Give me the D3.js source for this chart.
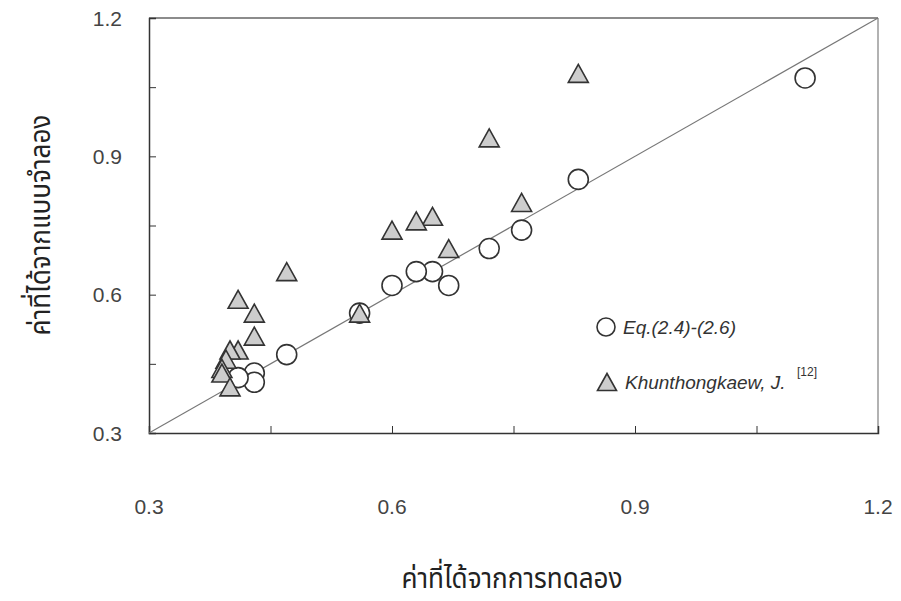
<!DOCTYPE html>
<html>
<head>
<meta charset="utf-8">
<script src="https://cdn.jsdelivr.net/npm/d3@7"></script>
<style>
  body { margin: 0; background: #fff; }
  svg { display: block; }
</style>
</head>
<body>
<svg id="chart" width="901" height="601"></svg>
<script>
// Model result from Eq.(2.4)-(2.6): experimental value vs. model value
const eqX = [1.11, 0.83, 0.76, 0.72, 0.67, 0.65, 0.63, 0.60, 0.56, 0.47, 0.43, 0.43, 0.41];
const eqY = [1.07, 0.85, 0.74, 0.70, 0.62, 0.65, 0.65, 0.62, 0.56, 0.47, 0.43, 0.41, 0.42];

// Reference results (Khunthongkaew, J.)
const khX = [0.83, 0.72, 0.76, 0.67, 0.65, 0.63, 0.60, 0.56, 0.47, 0.41, 0.43, 0.43, 0.41, 0.40, 0.395, 0.39, 0.39, 0.40];
const khY = [1.08, 0.94, 0.80, 0.70, 0.77, 0.76, 0.74, 0.56, 0.65, 0.59, 0.56, 0.51, 0.48, 0.48, 0.46, 0.44, 0.43, 0.40];

const tickValues = [0.3, 0.45, 0.6, 0.75, 0.9, 1.05, 1.2];
const tickLabels = ["0.3", "0.6", "0.9", "1.2"];
const xTitle = "ค่าที่ได้จากการทดลอง";
const yTitle = "ค่าที่ได้จากแบบจำลอง";
const legendNames = ["Eq.(2.4)-(2.6)", "Khunthongkaew, J."];
const legendRef = "[12]";

const svg = d3.select("#chart");
const plotL = 149, plotR = 878, plotT = 18, plotB = 433;

const x = d3.scaleLinear().domain([0.3, 1.2]).range([plotL, plotR]);
const y = d3.scaleLinear().domain([0.3, 1.2]).range([plotB, plotT]);

const ink = "#333";
const labelFont = "'Liberation Sans', Arial, sans-serif";

// frame
svg.append("line").attr("x1", plotL).attr("x2", plotR).attr("y1", plotT).attr("y2", plotT)
  .attr("stroke", "#666").attr("stroke-width", 1.5);
svg.append("line").attr("x1", plotR).attr("x2", plotR).attr("y1", plotT).attr("y2", plotB)
  .attr("stroke", "#999").attr("stroke-width", 1.5);

// axes with inward ticks
const xAxis = d3.axisBottom(x).tickValues(tickValues).tickSize(-7).tickFormat("");
const yAxis = d3.axisLeft(y).tickValues(tickValues).tickSize(-7).tickFormat("");
const gx = svg.append("g").attr("transform", `translate(0,${plotB})`).call(xAxis);
const gy = svg.append("g").attr("transform", `translate(${plotL},0)`).call(yAxis);
[gx, gy].forEach(g => {
  g.select(".domain").attr("stroke", ink).attr("stroke-width", 1.5);
  g.selectAll(".tick line").attr("stroke", ink).attr("stroke-width", 1);
});

// tick labels
const labelVals = tickLabels.map(Number);
svg.append("g").selectAll("text").data(labelVals).join("text")
  .attr("x", d => x(d)).attr("y", 514)
  .attr("text-anchor", "middle")
  .attr("font-family", labelFont).attr("font-size", 21).attr("fill", "#444")
  .text((d, i) => tickLabels[i]);
svg.append("g").selectAll("text").data(labelVals).join("text")
  .attr("x", 122).attr("y", d => y(d) + 7.5)
  .attr("text-anchor", "end")
  .attr("font-family", labelFont).attr("font-size", 21).attr("fill", "#444")
  .text((d, i) => tickLabels[i]);

// 1:1 line
svg.append("line")
  .attr("x1", x(0.3)).attr("y1", y(0.3)).attr("x2", x(1.2)).attr("y2", y(1.2))
  .attr("stroke", "#777").attr("stroke-width", 1.2);

// circles
const eqData = eqX.map((v, i) => [v, eqY[i]]);
svg.append("g").selectAll("circle").data(eqData).join("circle")
  .attr("cx", d => x(d[0])).attr("cy", d => y(d[1])).attr("r", 10)
  .attr("fill", "#fff").attr("stroke", ink).attr("stroke-width", 1.6);

// triangles
const tri = (cx, cy, w, h) => `M${cx},${cy - h / 2}L${cx + w / 2},${cy + h / 2}L${cx - w / 2},${cy + h / 2}Z`;
const khData = khX.map((v, i) => [v, khY[i]]);
svg.append("g").selectAll("path").data(khData).join("path")
  .attr("d", d => tri(x(d[0]), y(d[1]), 20, 18))
  .attr("fill", "#cdcdcd").attr("stroke", ink).attr("stroke-width", 1.6)
  .attr("stroke-linejoin", "miter");

// legend
svg.append("circle").attr("cx", 606).attr("cy", 327).attr("r", 9)
  .attr("fill", "#fff").attr("stroke", ink).attr("stroke-width", 1.6);
svg.append("text").attr("x", 623).attr("y", 334)
  .attr("font-family", labelFont).attr("font-style", "italic").attr("font-size", 19).attr("fill", ink)
  .text(legendNames[0]);
svg.append("path").attr("d", tri(607, 382, 19, 17))
  .attr("fill", "#cdcdcd").attr("stroke", ink).attr("stroke-width", 1.6);
svg.append("text").attr("x", 625).attr("y", 389)
  .attr("font-family", labelFont).attr("font-style", "italic").attr("font-size", 19).attr("fill", ink)
  .text(legendNames[1]);
svg.append("text").attr("x", 797).attr("y", 376)
  .attr("font-family", labelFont).attr("font-size", 12).attr("fill", ink)
  .text(legendRef);

// axis titles (Thai), slightly condensed
const thaiFont = "'Noto Sans Thai', 'Noto Serif Thai', 'Loma', 'Garuda', 'Norasi', sans-serif";
svg.append("text").attr("transform", "translate(512,588) scale(0.9,1)")
  .attr("text-anchor", "middle")
  .attr("font-family", thaiFont).attr("font-size", 29).attr("fill", "#222")
  .text(xTitle);
svg.append("text").attr("transform", "translate(50,225) rotate(-90) scale(0.9,1)")
  .attr("text-anchor", "middle")
  .attr("font-family", thaiFont).attr("font-size", 29).attr("fill", "#222")
  .text(yTitle);
</script>
</body>
</html>
